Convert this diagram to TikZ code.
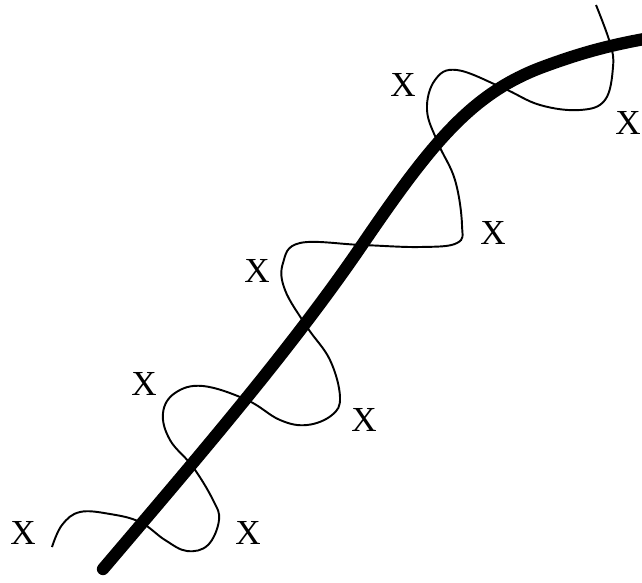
\documentclass[tikz,border=0pt]{standalone}
\usepackage{fontspec}
\setmainfont{Liberation Serif}

\begin{document}
\begin{tikzpicture}[x=0.02cm, y=-0.02cm, every node/.style={font=\fontsize{20}{20}\selectfont, inner sep=0pt}]
	\useasboundingbox (0,0) rectangle (642,582);
	% thick curve
	\draw[line width=7pt, line cap=round] (103,569) .. controls (200,455) and (290,350) .. (360,248)
		.. controls (430,145) and (470,95) .. (540,68) .. controls (580,53) and (610,45) .. (650,38);
	% thin wavy curve
	\draw[line width=1.1pt] plot[smooth, tension=0.65] coordinates {(52,547) (62,525) (80,512) (110,514) (140,522) (165,540) (187,551) (208,545) (219,520) (213,500) (193,467) (170,440) (163,413) (175,393) (203,386) (247,400) (280,420) (307,425) (332,415) (340,397) (330,360) (307,327) (285,290) (283,263) (300,243) (362,245) (420,247) (457,243) (462,225) (455,180) (438,143) (427,110) (435,80) (457,70) (503,88) (540,105) (580,110) (605,100) (613,67) (610,43) (596,5)};
	\node (x1) at (23,533) {X};
	\node (x2) at (248,533) {X};
	\node (x3) at (144,384) {X};
	\node (x4) at (364,420) {X};
	\node (x5) at (257,271) {X};
	\node (x6) at (493,233) {X};
	\node (x7) at (403,85) {X};
	\node (x8) at (628,123) {X};
\end{tikzpicture}
\end{document}
